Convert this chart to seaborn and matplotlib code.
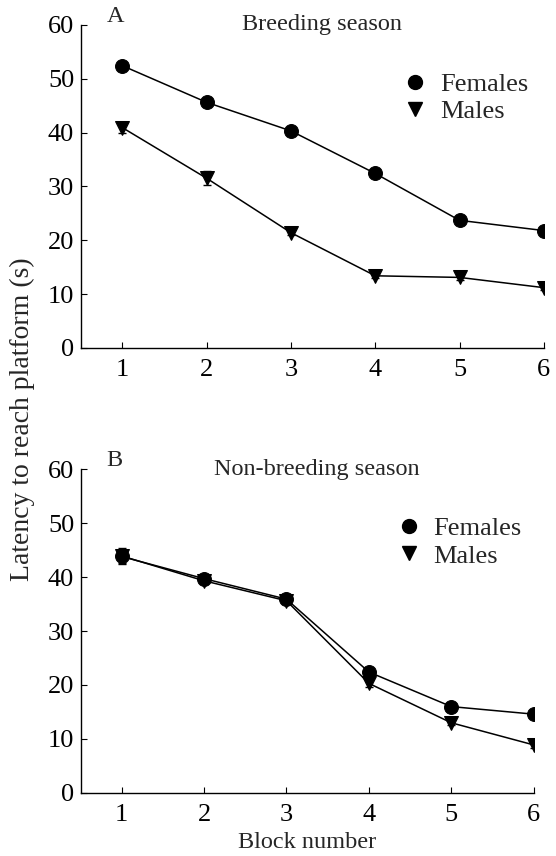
import numpy as np
import pandas as pd
import matplotlib
matplotlib.use("Agg")
import matplotlib.pyplot as plt
import seaborn as sns
from matplotlib.lines import Line2D

blocks = [1, 2, 3, 4, 5, 6]
a_females = [52.4, 45.6, 40.3, 32.4, 23.7, 21.8]
a_males = [40.9, 31.5, 21.4, 13.4, 13.1, 11.2]
a_females_err = [0.5, 0.5, 0.5, 0.5, 0.5, 0.5]
a_males_err = [0.9, 1.3, 0.5, 0.5, 0.5, 0.5]
b_females = [43.8, 39.7, 35.9, 22.4, 16.0, 14.6]
b_males = [43.9, 39.3, 35.6, 20.3, 13.0, 8.9]
b_females_err = [1.2, 0.6, 0.6, 0.6, 0.5, 0.5]
b_males_err = [1.5, 0.6, 0.6, 0.6, 0.5, 0.5]
yticks = [0, 10, 20, 30, 40, 50, 60]
panel_letters = ["A", "B"]
panel_titles = ["Breeding season", "Non-breeding season"]
series_names = ["Females", "Males"]

sns.set_style("ticks")
plt.rcParams["font.family"] = ["Liberation Serif", "DejaVu Serif"]
plt.rcParams["mathtext.fontset"] = "stix"

fig = plt.figure(figsize=(5.56, 8.56), dpi=100)
axA = fig.add_axes([0.146, 0.5935, 0.832, 0.3775])
axB = fig.add_axes([0.146, 0.0736, 0.814, 0.3785])

panels = [
    (axA, a_females, a_males, a_females_err, a_males_err),
    (axB, b_females, b_males, b_females_err, b_males_err),
]
markers = {"Females": "o", "Males": "v"}
sizes = {"Females": 10, "Males": 10.5}

for i, (ax, fem, mal, fe, me) in enumerate(panels):
    df = pd.DataFrame({
        "Block": blocks * 2,
        "Latency": fem + mal,
        "Sex": ["Females"] * 6 + ["Males"] * 6,
    })
    for sex, vals, err in [("Males", mal, me), ("Females", fem, fe)]:
        sub = df[df["Sex"] == sex]
        ax.errorbar(sub["Block"], sub["Latency"], yerr=err, fmt="none",
                    ecolor="black", elinewidth=1, capsize=3, capthick=1, zorder=2)
        sns.lineplot(data=sub, x="Block", y="Latency", ax=ax, color="black",
                     marker=markers[sex], markersize=sizes[sex],
                     markeredgecolor="black", markerfacecolor="black",
                     linewidth=1.1, legend=False, zorder=3)
    ax.set_xlim(0.51, 6.0)
    ax.set_ylim(0, 60)
    ax.set_xticks(blocks)
    ax.set_yticks(yticks)
    ax.tick_params(direction="in", length=4, width=0.8, labelsize=19, pad=5,
                   colors="black")
    ax.tick_params(axis="x", pad=8)
    for s in ["top", "right"]:
        ax.spines[s].set_visible(False)
    for s in ["left", "bottom"]:
        ax.spines[s].set_linewidth(1.0)
        ax.spines[s].set_color("black")
    ax.set_xlabel("")
    ax.set_ylabel("")
    handles = [Line2D([], [], color="black", linestyle="none", marker=markers[n],
                      markersize=sizes[n]) for n in series_names]
    ax.legend(handles, series_names, frameon=False, fontsize=19,
              loc="upper left",
              bbox_to_anchor=(0.665, 0.885),
              handletextpad=0.35, labelspacing=0.15, handlelength=1.2,
              borderaxespad=0)
    ax.text(0.055, 1.025, panel_letters[i], transform=ax.transAxes,
            fontsize=17.5, va="center", ha="left")
    ax.text(0.52, 1.0, panel_titles[i], transform=ax.transAxes,
            fontsize=17.5, va="center", ha="center")

axB.set_xlabel("Block number", fontsize=17.5, labelpad=4)
fig.text(0.04, 0.51, "Latency to reach platform (s)", rotation=90,
         fontsize=20, va="center", ha="center")

fig.savefig("out.png", dpi=100)
